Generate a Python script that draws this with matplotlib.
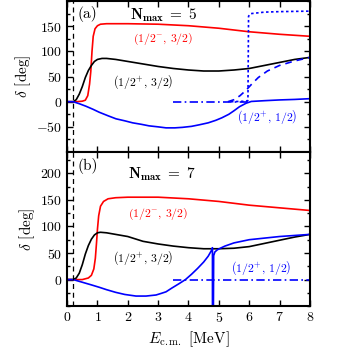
import matplotlib
matplotlib.use("Agg")
import matplotlib.pyplot as plt
from matplotlib.ticker import MultipleLocator, FixedLocator

plt.rcParams['font.family'] = 'serif'
plt.rcParams['font.serif'] = ['cmr10']
plt.rcParams['mathtext.fontset'] = 'cm'
plt.rcParams['axes.formatter.use_mathtext'] = True

threshold = 0.19

# ---- panel (a), Nmax = 5 ----
a_red_E = [0, 0.3, 0.5, 0.6, 0.68, 0.74, 0.78, 0.82, 0.86, 0.92, 1.0, 1.1, 1.3, 1.6, 2.0,
           3.0, 4.0, 5.0, 6.0, 7.0, 8.0]
a_red_d = [0, 0, 1, 3, 12, 35, 60, 100, 130, 145, 151, 154, 155, 155, 155,
           154, 151, 146, 139, 134, 130]

a_blk_E = [0, 0.2, 0.3, 0.4, 0.5, 0.6, 0.7, 0.8, 0.9, 1.0, 1.15, 1.3, 1.6, 2.0, 2.5, 3.0,
           3.5, 4.0, 4.5, 5.0, 5.5, 6.0, 6.5, 7.0, 7.5, 8.0]
a_blk_d = [0, 0, 4, 15, 30, 48, 62, 72, 80, 84, 86, 86, 84, 80, 75, 70,
           66, 63, 61, 61, 63, 66, 72, 78, 84, 88]

a_blu_E = [0, 0.2, 0.4, 0.62, 0.85, 1.06, 1.35, 1.61, 1.9, 2.16, 2.45, 2.7, 3.0, 3.26, 3.55,
           3.8, 4.1, 4.35, 4.65, 4.9, 5.1, 5.33, 5.5, 5.68, 5.9, 6.07, 6.5, 7.0, 7.5, 8.0]
a_blu_d = [0, 0, -4, -9, -15, -21, -28, -34, -38, -42, -45, -48, -50, -52, -52,
           -51, -49, -46, -42, -37, -32, -25, -18, -10, -3, 0.5, 2, 3.5, 4.5, 6]

a_dashdot_E = [3.5, 5.95]
a_dashdot_d = [0, 0]

a_dash_E = [5.3, 5.5, 5.7, 5.9, 6.1, 6.3, 6.6, 7.0, 7.5, 8.0]
a_dash_d = [0, 4, 12, 23, 36, 48, 61, 72, 81, 88]

a_dot_E = [5.4, 5.9, 5.96, 5.98, 6.05, 6.5, 7.0, 8.0]
a_dot_d = [0, 1, 3, 170, 175, 178, 179, 180]

# ---- panel (b), Nmax = 7 ----
b_red_E = [0, 0.5, 0.7, 0.8, 0.88, 0.93, 0.97, 1.0, 1.04, 1.1, 1.2, 1.35, 1.6, 2.0,
           3.0, 4.0, 5.0, 6.0, 7.0, 8.0]
b_red_d = [0, 0, 3, 8, 20, 40, 70, 95, 120, 138, 147, 152, 154, 155,
           155, 152, 147, 140, 135, 130]

b_blk_E = [0, 0.2, 0.3, 0.4, 0.5, 0.6, 0.7, 0.8, 0.9, 1.0, 1.1, 1.3, 1.6, 2.0, 2.5, 3.0,
           3.5, 4.0, 4.5, 5.0, 5.5, 6.0, 6.5, 7.0, 7.5, 8.0]
b_blk_d = [0, 0, 3, 12, 28, 48, 64, 76, 84, 88, 89, 88, 85, 81, 72, 67,
           63, 60, 58, 58, 59, 62, 68, 74, 80, 85]

b_blu_E = [0, 0.2, 0.5, 0.8, 1.06, 1.3, 1.6, 1.9, 2.27, 2.6, 2.93, 3.1, 3.26, 3.45, 3.68,
           3.9, 4.1, 4.3, 4.5, 4.65, 4.75, 4.79, 4.79, 4.82, 4.83, 4.87, 4.95, 5.05, 5.2,
           5.5, 6.0, 6.5, 7.0, 7.5, 8.0]
b_blu_d = [0, 0, -5, -10, -14.5, -19, -24, -28, -31, -31, -29, -26, -23, -16, -8,
           0, 10, 21, 33, 44, 54, 60, -70, -70, 45, 52, 56, 59, 63,
           69, 75, 78, 81, 83, 85]

b_dashdot_E = [3.5, 8.0]
b_dashdot_d = [0, 0]

red = '#ff0000'
blue = '#0000ff'
lw = 1.2

fig = plt.figure(figsize=(3.39, 3.56), dpi=100)
ax1 = fig.add_axes([0.198, 0.573, 0.716, 0.424])
ax2 = fig.add_axes([0.198, 0.140, 0.716, 0.433])

# panel (a)
ax1.plot(a_red_E, a_red_d, color=red, lw=lw)
ax1.plot(a_blk_E, a_blk_d, color='black', lw=lw)
ax1.plot(a_blu_E, a_blu_d, color=blue, lw=lw)
ax1.plot(a_dashdot_E, a_dashdot_d, color=blue, lw=lw, ls=(0, (5, 2, 1, 2)))
ax1.plot(a_dash_E, a_dash_d, color=blue, lw=lw, ls=(0, (4, 3)))
ax1.plot(a_dot_E, a_dot_d, color=blue, lw=lw, ls=(0, (1.5, 1.5)))
ax1.axvline(threshold, color='black', lw=0.9, ls=(0, (4, 3)))
ax1.set_ylim(-100, 200)

# panel (b)
ax2.plot(b_red_E, b_red_d, color=red, lw=lw)
ax2.plot(b_blk_E, b_blk_d, color='black', lw=lw)
ax2.plot(b_blu_E, b_blu_d, color=blue, lw=lw)
ax2.plot(b_dashdot_E, b_dashdot_d, color=blue, lw=lw, ls=(0, (5, 2, 1, 2)))
ax2.axvline(threshold, color='black', lw=0.9, ls=(0, (4, 3)))
ax2.set_ylim(-50, 240)

for ax in (ax1, ax2):
    ax.set_xlim(0, 8)
    ax.xaxis.set_major_locator(MultipleLocator(1))
    ax.yaxis.set_minor_locator(MultipleLocator(25))
    ax.tick_params(which='both', direction='in', top=True, right=True,
                   labelsize=10, width=1.0)
    ax.tick_params(which='major', length=4)
    ax.tick_params(which='minor', length=2.5)
    for s in ax.spines.values():
        s.set_linewidth(1.5)
    ax.set_ylabel(r'$\delta$ [deg]', fontsize=11, labelpad=2)

ax1.yaxis.set_major_locator(FixedLocator([-50, 0, 50, 100, 150]))
ax2.yaxis.set_major_locator(FixedLocator([0, 50, 100, 150, 200]))
ax1.tick_params(labelbottom=False)
ax2.set_xlabel(r'$E_{\rm c.m.}$ [MeV]', fontsize=11, labelpad=3)

# annotations
lab_fs = 8.5
ax1.text(0.33, 174, '(a)', fontsize=11, ha='left', va='center')
ax1.text(3.16, 171, r'$\mathbf{N_{max}}\;\mathbf{=}\;\mathbf{5}$', fontsize=11, ha='center', va='center')
ax1.text(3.16, 125, r'$\left(1/2^{-},\,3/2\right)$', fontsize=lab_fs, color=red, ha='center', va='center')
ax1.text(2.5, 39, r'$\left(1/2^{+},\,3/2\right)$', fontsize=lab_fs, color='black', ha='center', va='center')
ax1.text(6.6, -31, r'$\left(1/2^{+},\,1/2\right)$', fontsize=lab_fs, color=blue, ha='center', va='center')

ax2.text(0.33, 213, '(b)', fontsize=11, ha='left', va='center')
ax2.text(3.12, 198, r'$\mathbf{N_{max}}\;\mathbf{=}\;\mathbf{7}$', fontsize=11, ha='center', va='center')
ax2.text(3.0, 123, r'$\left(1/2^{-},\,3/2\right)$', fontsize=lab_fs, color=red, ha='center', va='center')
ax2.text(2.5, 41.5, r'$\left(1/2^{+},\,3/2\right)$', fontsize=lab_fs, color='black', ha='center', va='center')
ax2.text(6.4, 22.6, r'$\left(1/2^{+},\,1/2\right)$', fontsize=lab_fs, color=blue, ha='center', va='center')

fig.savefig('out.png', dpi=100)
